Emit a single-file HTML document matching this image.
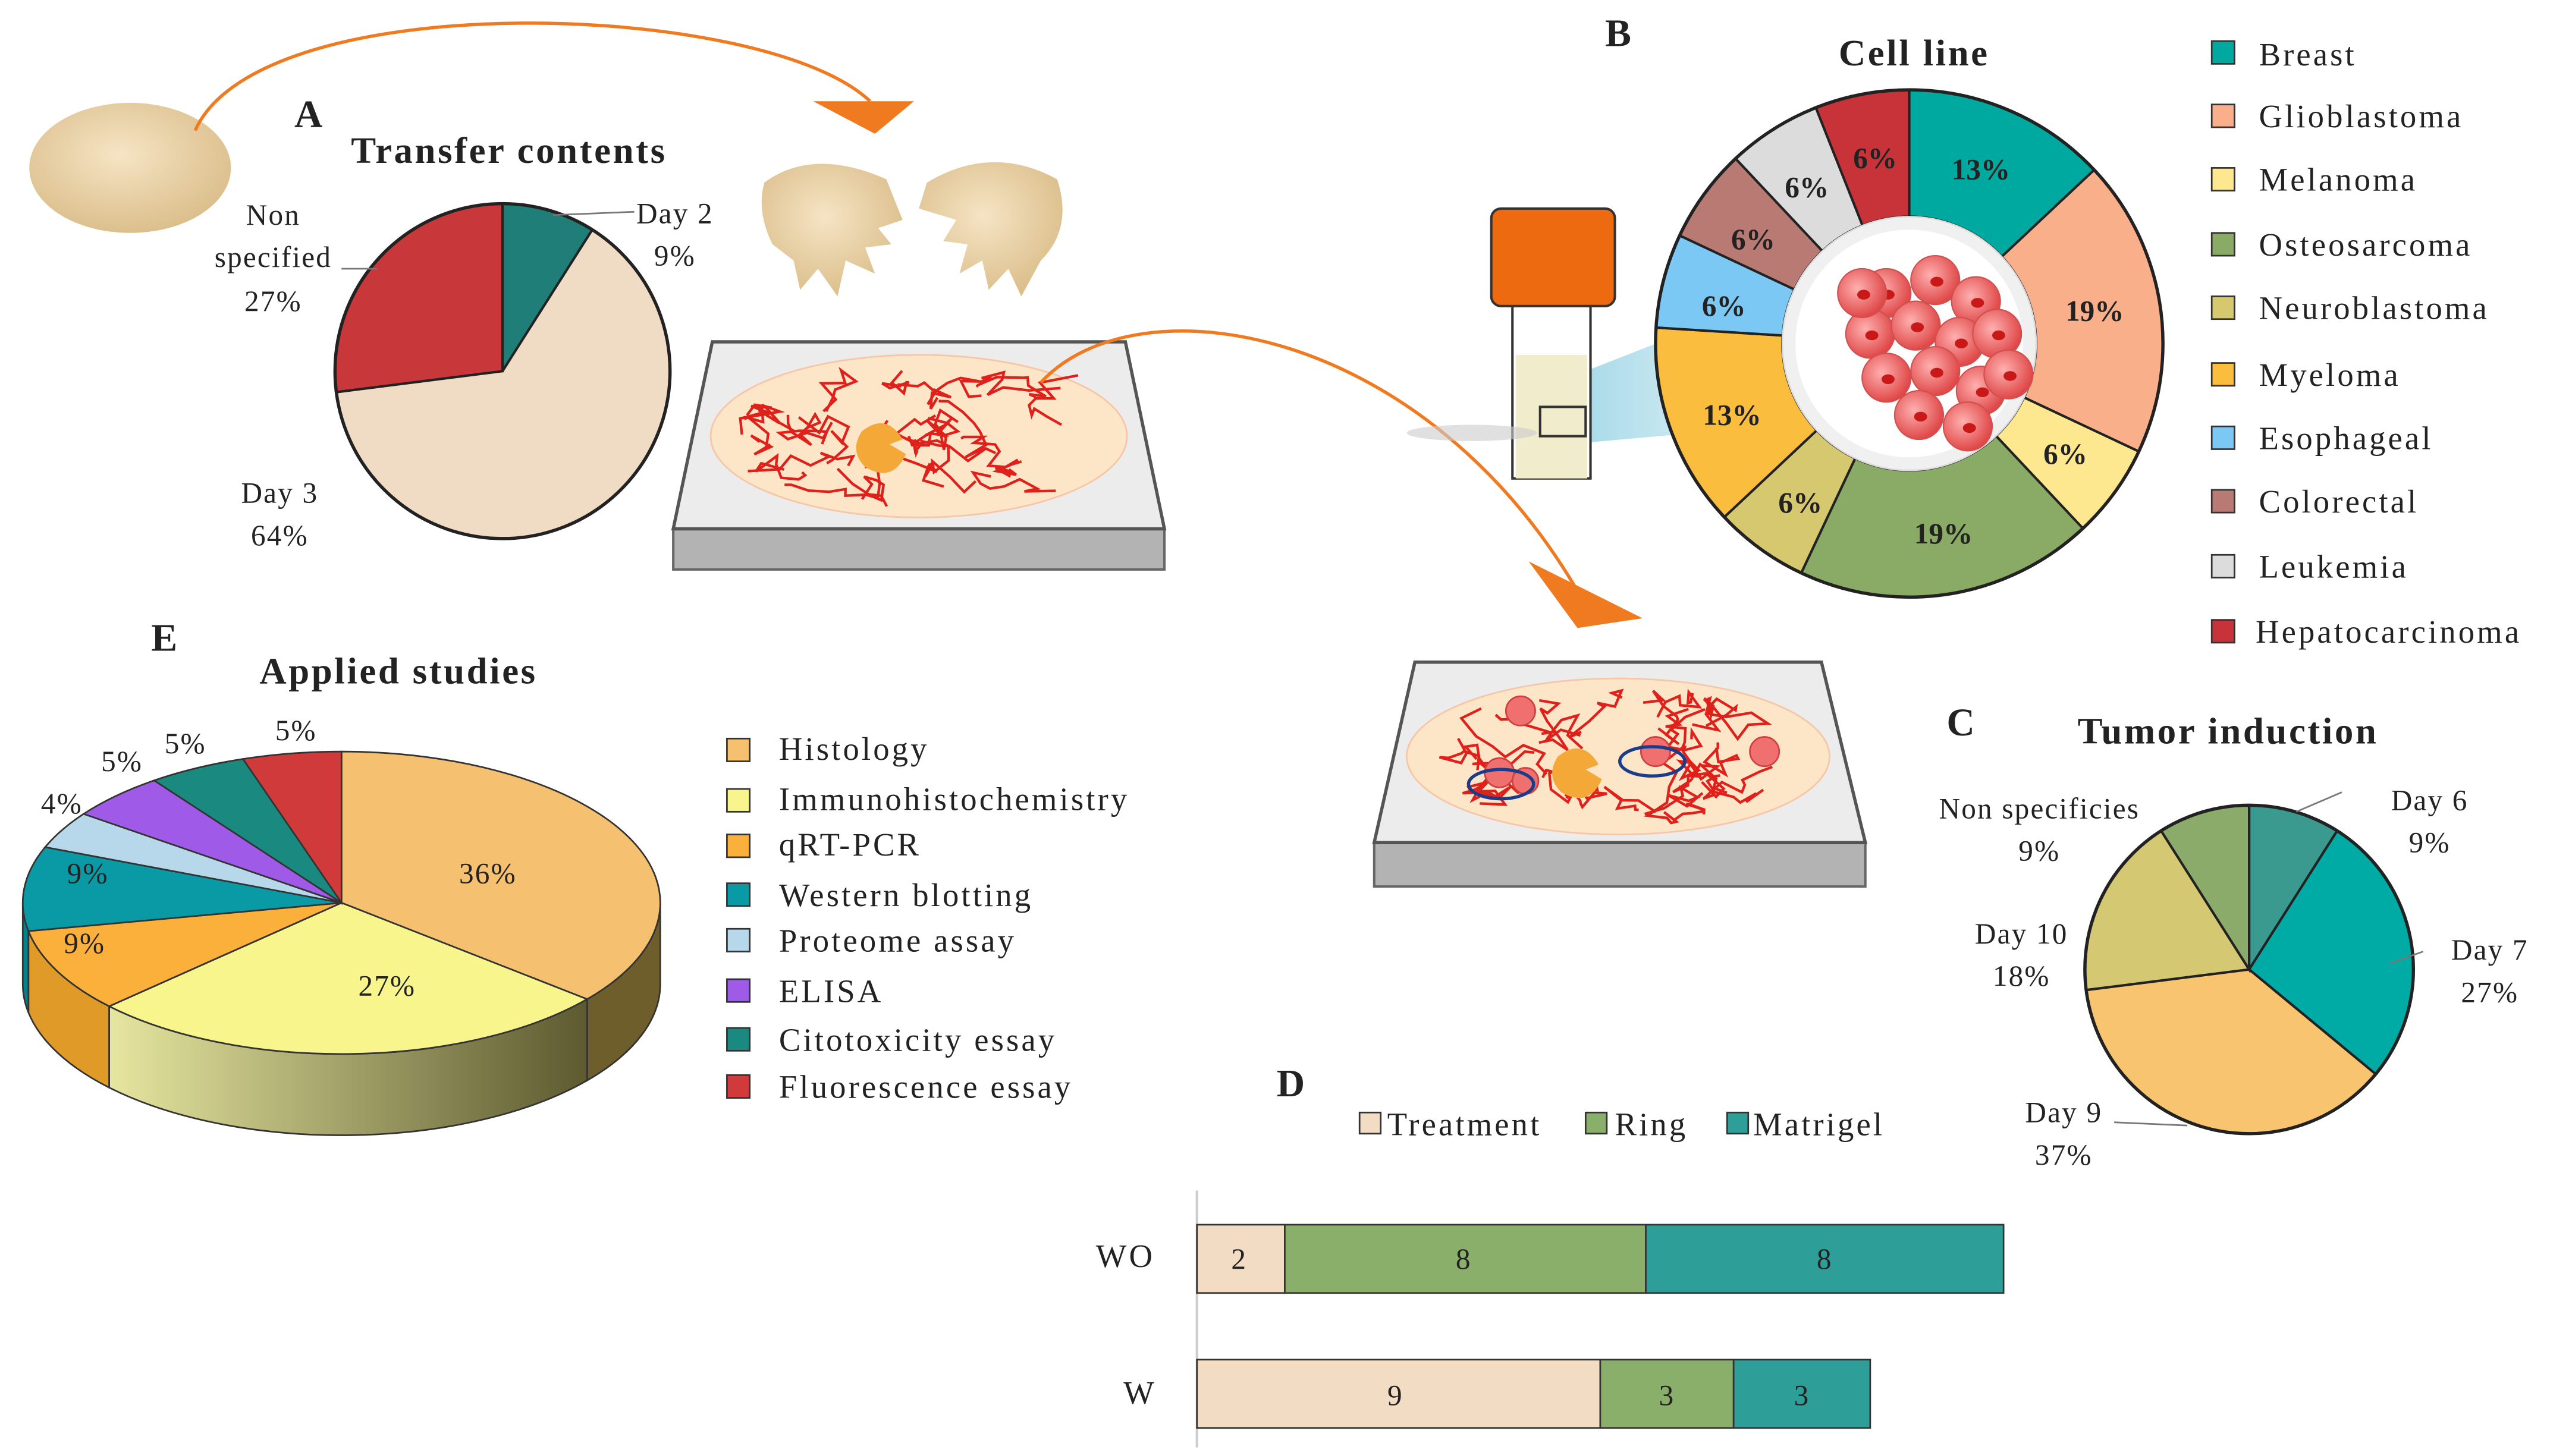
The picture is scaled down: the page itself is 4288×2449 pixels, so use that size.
<!DOCTYPE html>
<html><head><meta charset="utf-8"><style>
html,body{margin:0;padding:0;background:#fff}
svg{display:block}
text{font-family:"Liberation Serif",serif;fill:#222}
.t{font-size:23px;font-weight:bold;letter-spacing:1.3px}
.L{font-size:24px;font-weight:bold}
.lg{font-size:20px;letter-spacing:1.5px}
.pl{font-size:18px;letter-spacing:0.8px}
.bl{font-size:18px;font-weight:bold}
</style></head><body>
<svg id="s" width="4288" height="2449" viewBox="0 0 1568 895" xmlns="http://www.w3.org/2000/svg">
<defs>
<linearGradient id="ig" x1="0" x2="1"><stop offset="0" stop-color="#e6e6a0"/><stop offset="1" stop-color="#5d5a30"/></linearGradient>
<linearGradient id="cone" x1="0" x2="1"><stop offset="0" stop-color="#9fd6e6" stop-opacity="0.9"/><stop offset="1" stop-color="#cfeaf2" stop-opacity="0.5"/></linearGradient>
<radialGradient id="egg" cx="0.45" cy="0.4" r="0.6"><stop offset="0" stop-color="#f5e4c4"/><stop offset="1" stop-color="#dcbf8c"/></radialGradient>
<radialGradient id="cell" cx="0.4" cy="0.4" r="0.6"><stop offset="0" stop-color="#ffb0b0"/><stop offset="1" stop-color="#e04848"/></radialGradient>
</defs>
<polygon points="975,228 1110,175 1110,260 975,272" fill="url(#cone)"/>
<g id="g"></g>

<!-- egg and arrows -->
<ellipse cx="80" cy="103" rx="62" ry="40" fill="url(#egg)"/>
<path d="M120,80 C160,-10 470,0 535,62" fill="none" stroke="#f07a20" stroke-width="2"/>
<polygon points="500,62 562,62 538,82" fill="#f07a20"/>
<path d="M470,112 Q500,90 545,110 L555,135 L540,140 L548,150 L532,152 L538,168 L520,160 L515,182 L503,165 L492,178 L488,160 L475,150 Q465,130 470,112Z" fill="url(#egg)"/>
<path d="M570,112 Q610,88 650,110 Q660,140 640,160 L628,182 L620,165 L608,178 L604,160 L590,168 L595,150 L580,148 L588,135 L565,128Z" fill="url(#egg)"/>

<!-- tray 1 -->
<polygon points="414,325 716,325 716,350 414,350" fill="#b3b3b3" stroke="#666" stroke-width="1.5"/>
<polygon points="438,210 692,210 716,325 414,325" fill="#ececec" stroke="#555" stroke-width="2"/>
<ellipse cx="565" cy="268" rx="128" ry="50" fill="#fde6c8" stroke="#f6c6a6"/>
<g id="v1" stroke="#e0201a" stroke-width="1.6" fill="none"></g>
<path d="M530,265 q15,-12 25,5 l-8,3 l10,6 q-8,18 -25,8 q-10,-10 -2,-22z" fill="#f4a838"/>
<path d="M640,235 C700,170 880,200 975,372" fill="none" stroke="#f07a20" stroke-width="2"/>
<polygon points="940,345 1010,380 970,386" fill="#f07a20"/>

<!-- tray 2 -->
<polygon points="845,518 1147,518 1147,545 845,545" fill="#b3b3b3" stroke="#666" stroke-width="1.5"/>
<polygon points="870,407 1120,407 1147,518 845,518" fill="#ececec" stroke="#555" stroke-width="2"/>
<ellipse cx="995" cy="465" rx="130" ry="48" fill="#fde6c8" stroke="#f6c6a6"/>
<g id="v2" stroke="#e0201a" stroke-width="1.6" fill="none"></g>
<path d="M958,465 q15,-12 25,5 l-8,3 l10,6 q-8,18 -25,8 q-10,-10 -2,-22z" fill="#f4a838"/>
<g fill="#f07070" stroke="#d04040">
<circle cx="935" cy="437" r="9"/><circle cx="922" cy="475" r="9"/><circle cx="938" cy="480" r="8"/><circle cx="1018" cy="462" r="9"/><circle cx="1085" cy="462" r="9"/>
</g>
<ellipse cx="923" cy="482" rx="20" ry="9" fill="none" stroke="#1a3c8a" stroke-width="2"/>
<ellipse cx="1016" cy="468" rx="20" ry="9" fill="none" stroke="#1a3c8a" stroke-width="2"/>

<!-- tube -->
<rect x="930" y="186" width="48" height="108" fill="#fff" stroke="#333" stroke-width="1.5"/>
<rect x="932" y="218" width="44" height="76" fill="#f0eccc"/>
<rect x="947" y="250" width="28" height="18" fill="none" stroke="#333" stroke-width="1.5"/>
<rect x="917" y="128" width="76" height="60" rx="6" fill="#ee6a10" stroke="#333" stroke-width="1.5"/>
<ellipse cx="905" cy="266" rx="40" ry="5" fill="#ccc" opacity="0.6"/>

<text class="L" x="181" y="78">A</text>
<text class="L" x="987" y="28">B</text>
<text class="L" x="1197" y="452">C</text>
<text class="L" x="785" y="674">D</text>
<text class="L" x="93" y="400">E</text>
<text class="t" x="313" y="100" text-anchor="middle">Transfer contents</text>
<text class="t" x="1177" y="40" text-anchor="middle">Cell line</text>
<text class="t" x="1370" y="457" text-anchor="middle">Tumor induction</text>
<text class="t" x="245" y="420" text-anchor="middle">Applied studies</text>

<g text-anchor="middle">
<text x="415" y="137" class="pl">Day 2</text><text x="415" y="163" class="pl">9%</text>
<text x="168" y="138" class="pl">Non</text><text x="168" y="164" class="pl">specified</text><text x="168" y="191" class="pl">27%</text>
<text x="172" y="309" class="pl">Day 3</text><text x="172" y="335" class="pl">64%</text>
</g>
<path d="M340,132 L390,130 M210,165 L232,165" stroke="#777" fill="none"/>

<g>
<rect x="1360" y="25" width="14" height="14" fill="#00a9a0" stroke="#333"/><text x="1389" y="40" class="lg">Breast</text>
<rect x="1360" y="64" width="14" height="14" fill="#f9b08a" stroke="#333"/><text x="1389" y="78" class="lg">Glioblastoma</text>
<rect x="1360" y="103" width="14" height="14" fill="#fde890" stroke="#333"/><text x="1389" y="117" class="lg">Melanoma</text>
<rect x="1360" y="143" width="14" height="14" fill="#8aab65" stroke="#333"/><text x="1389" y="157" class="lg">Osteosarcoma</text>
<rect x="1360" y="182" width="14" height="14" fill="#d6c86e" stroke="#333"/><text x="1389" y="196" class="lg">Neuroblastoma</text>
<rect x="1360" y="223" width="14" height="14" fill="#fbbd3d" stroke="#333"/><text x="1389" y="237" class="lg">Myeloma</text>
<rect x="1360" y="262" width="14" height="14" fill="#7cc8f5" stroke="#333"/><text x="1389" y="276" class="lg">Esophageal</text>
<rect x="1360" y="301" width="14" height="14" fill="#b97a74" stroke="#333"/><text x="1389" y="315" class="lg">Colorectal</text>
<rect x="1360" y="341" width="14" height="14" fill="#dcdcdc" stroke="#333"/><text x="1389" y="355" class="lg">Leukemia</text>
<rect x="1360" y="381" width="14" height="14" fill="#c8333a" stroke="#333"/><text x="1387" y="395" class="lg">Hepatocarcinoma</text>
</g>

<g text-anchor="middle">
<text x="1494" y="498" class="pl">Day 6</text><text x="1494" y="524" class="pl">9%</text>
<text x="1531" y="590" class="pl">Day 7</text><text x="1531" y="616" class="pl">27%</text>
<text x="1269" y="690" class="pl">Day 9</text><text x="1269" y="716" class="pl">37%</text>
<text x="1243" y="580" class="pl">Day 10</text><text x="1243" y="606" class="pl">18%</text>
<text x="1254" y="503" class="pl">Non specificies</text><text x="1254" y="529" class="pl">9%</text>
</g>
<path d="M1412,499 L1440,487 M1470,592 L1490,585 M1300,690 L1345,692" stroke="#777" fill="none"/>

<g>
<rect x="447" y="454" width="14" height="14" fill="#f5c06f" stroke="#333"/><text x="479" y="467" class="lg">Histology</text>
<rect x="447" y="485" width="14" height="14" fill="#f8f58c" stroke="#333"/><text x="479" y="498" class="lg">Immunohistochemistry</text>
<rect x="447" y="513" width="14" height="14" fill="#fbb03b" stroke="#333"/><text x="479" y="526" class="lg">qRT-PCR</text>
<rect x="447" y="543" width="14" height="14" fill="#0a9aa5" stroke="#333"/><text x="479" y="557" class="lg">Western blotting</text>
<rect x="447" y="571" width="14" height="14" fill="#b7d8ea" stroke="#333"/><text x="479" y="585" class="lg">Proteome assay</text>
<rect x="447" y="602" width="14" height="14" fill="#a05ae8" stroke="#333"/><text x="479" y="616" class="lg">ELISA</text>
<rect x="447" y="632" width="14" height="14" fill="#1a8a80" stroke="#333"/><text x="479" y="646" class="lg">Citotoxicity essay</text>
<rect x="447" y="661" width="14" height="14" fill="#d03a3a" stroke="#333"/><text x="479" y="675" class="lg">Fluorescence essay</text>
</g>

<rect x="836" y="684" width="13" height="13" fill="#f3dcc4" stroke="#333"/><text x="853" y="698" class="lg">Treatment</text>
<rect x="975" y="684" width="13" height="13" fill="#8aaf6a" stroke="#333"/><text x="993" y="698" class="lg">Ring</text>
<rect x="1062" y="684" width="13" height="13" fill="#2e9e98" stroke="#333"/><text x="1078" y="698" class="lg">Matrigel</text>
<line x1="736" y1="732" x2="736" y2="890" stroke="#ccc" stroke-width="1.5"/>
<g stroke="#333" stroke-width="1">
<rect x="736" y="753" width="54" height="42" fill="#f3dcc4"/><rect x="790" y="753" width="222" height="42" fill="#8aaf6a"/><rect x="1012" y="753" width="220" height="42" fill="#2e9e98"/>
<rect x="736" y="836" width="248" height="42" fill="#f3dcc4"/><rect x="984" y="836" width="82" height="42" fill="#8aaf6a"/><rect x="1066" y="836" width="84" height="42" fill="#2e9e98"/>
</g>
<g text-anchor="middle">
<text x="762" y="780" class="pl">2</text><text x="900" y="780" class="pl">8</text><text x="1122" y="780" class="pl">8</text>
<text x="858" y="864" class="pl">9</text><text x="1025" y="864" class="pl">3</text><text x="1108" y="864" class="pl">3</text>
<text x="692" y="779" class="lg">WO</text><text x="701" y="863" class="lg">W</text>
</g>
</svg>
<script>
var NS="http://www.w3.org/2000/svg";
function el(par,tag,a){var e=document.createElementNS(NS,tag);for(var k in a)e.setAttribute(k,a[k]);par.appendChild(e);return e;}
var G=document.getElementById('g');
function pt(cx,cy,rx,ry,d){var r=d*Math.PI/180;return [cx+rx*Math.sin(r),cy-ry*Math.cos(r)];}
function pie(par,cx,cy,r,vals,cols){var a=0;vals.forEach(function(v,i){var b=a+v*3.6;var p=pt(cx,cy,r,r,a),q=pt(cx,cy,r,r,b);
el(par,'path',{d:'M'+cx+','+cy+'L'+p+'A'+r+','+r+' 0 '+(b-a>180?1:0)+' 1 '+q+'Z',fill:cols[i],stroke:'#222','stroke-width':1.5});a=b;});
el(par,'circle',{cx:cx,cy:cy,r:r,fill:'none',stroke:'#222','stroke-width':2});}
pie(G,309,228,103,[9,64,27],['#1f7f78','#f0dcc4','#c8373a']);
pie(G,1383,596,101,[9,27,37,18,9],['#3a9a8f','#00aaa5','#f9c46f','#d5c873','#8aab6a']);
(function(){var cx=1174,cy=211,R=156,r=78,vals=[13,19,6,19,6,13,6,6,6,6],cols=['#00a9a0','#f9b08a','#fde890','#8aab65','#d6c86e','#fbbd3d','#7cc8f5','#b97a74','#dcdcdc','#c8333a'];var a=0;
vals.forEach(function(v,i){var b=a+v*3.6;var p=pt(cx,cy,R,R,a),q=pt(cx,cy,R,R,b),p2=pt(cx,cy,r,r,b),q2=pt(cx,cy,r,r,a);
el(G,'path',{d:'M'+p+'A'+R+','+R+' 0 0 1 '+q+'L'+p2+'A'+r+','+r+' 0 0 0 '+q2+'Z',fill:cols[i],stroke:'#222','stroke-width':1.5});a=b;});
el(G,'circle',{cx:cx,cy:cy,r:R,fill:'none',stroke:'#222','stroke-width':2});
el(G,'circle',{cx:cx,cy:cy,r:r,fill:'#f0f0f0',stroke:'#ddd'});
el(G,'circle',{cx:cx,cy:cy,r:r-8,fill:'#ffffff'});
var cs=[[1160,180],[1190,172],[1215,185],[1150,205],[1178,200],[1205,210],[1228,205],[1160,232],[1190,228],[1218,240],[1180,255],[1210,262],[1145,180],[1235,230]];
cs.forEach(function(c){el(G,'circle',{cx:c[0],cy:c[1],r:15,fill:'url(#cell)',stroke:'#d05050','stroke-width':0.8});el(G,'ellipse',{cx:c[0]+1,cy:c[1]+1,rx:4,ry:3,fill:'#c81818'});});
var L=[['13%',1218,110],['19%',1288,197],['6%',1270,285],['19%',1195,334],['6%',1107,315],['13%',1065,261],['6%',1060,194],['6%',1078,153],['6%',1111,121],['6%',1153,103]];
L.forEach(function(l){var t=el(G,'text',{x:l[1],y:l[2],'text-anchor':'middle','class':'bl'});t.textContent=l[0];});})();
(function(){var cx=210,cy=555,rx=196,ry=93,D=50;var vals=[36,27,9,9,4,5,5,5];var cols=['#f5c06f','#f8f58c','#fbb03b','#0a9aa5','#b7d8ea','#a05ae8','#1a8a80','#d03a3a'];
var side=['#6e5e2c','url(#ig)','#e09a28','#08808a'];
var a=0;var sl=[];vals.forEach(function(v,i){sl.push([a,a+v*3.6]);a+=v*3.6;});
sl.forEach(function(s,i){var lo=Math.max(s[0],90),hi=Math.min(s[1],270);if(hi<=lo)return;var p=pt(cx,cy,rx,ry,lo),q=pt(cx,cy,rx,ry,hi);
el(G,'path',{d:'M'+p+'A'+rx+','+ry+' 0 0 1 '+q+'L'+q[0]+','+(q[1]+D)+'A'+rx+','+ry+' 0 0 0 '+p[0]+','+(p[1]+D)+'Z',fill:side[i]||cols[i],stroke:'#333','stroke-width':1});});
sl.forEach(function(s,i){var p=pt(cx,cy,rx,ry,s[0]),q=pt(cx,cy,rx,ry,s[1]);
el(G,'path',{d:'M'+cx+','+cy+'L'+p+'A'+rx+','+ry+' 0 '+(s[1]-s[0]>180?1:0)+' 1 '+q+'Z',fill:cols[i],stroke:'#333','stroke-width':1});});
var L=[['36%',300,543],['27%',238,612],['9%',52,586],['9%',54,543],['4%',38,500],['5%',75,474],['5%',114,463],['5%',182,455]];
L.forEach(function(l){var t=el(G,'text',{x:l[1],y:l[2],'text-anchor':'middle','class':'pl'});t.textContent=l[0];});})();
function vessels(id,cx,cy,rx,ry,seed){var g=document.getElementById(id);var s=seed;function R(){s=(s*9301+49297)%233280;return s/233280;}
for(var i=0;i<30;i++){var x=cx+(R()-0.5)*rx*1.7,y=cy+(R()-0.5)*ry*1.5;var d='M'+x.toFixed(1)+','+y.toFixed(1);
for(var j=0;j<8;j++){x+=(R()-0.5)*26;y+=(R()-0.5)*20;var dx=(x-cx)/rx,dy=(y-cy)/ry;if(dx*dx+dy*dy>0.8){x=cx+(x-cx)*0.8;y=cy+(y-cy)*0.8;}d+='L'+x.toFixed(1)+','+y.toFixed(1);}
el(g,'path',{d:d});}}
vessels('v1',565,268,128,50,7);vessels('v2',995,465,130,48,13);
</script>
</body></html>
